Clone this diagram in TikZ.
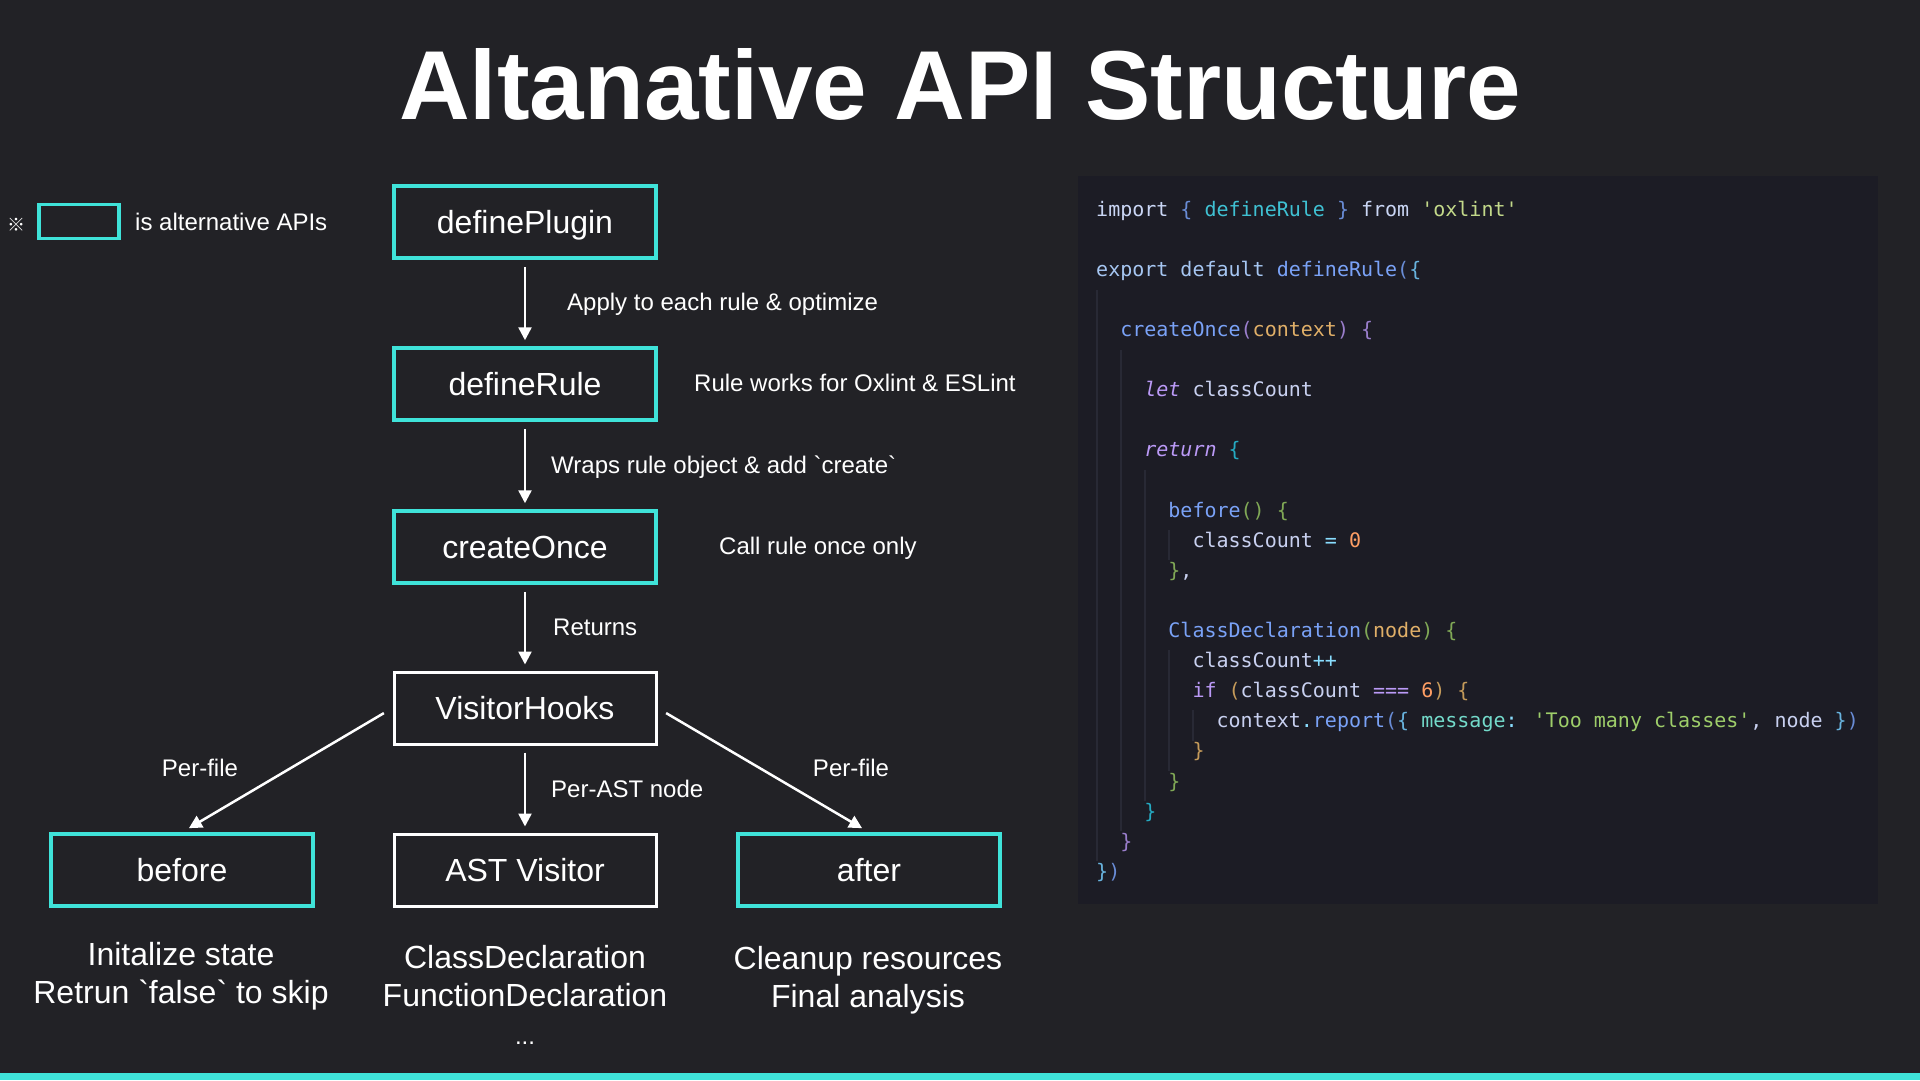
\documentclass[tikz,border=0pt]{standalone}
\usepackage{fontspec}
\usetikzlibrary{arrows.meta}
\newfontfamily\bodyfont{Liberation Sans}
\newfontfamily\titlefont{Liberation Sans Bold}
\newfontfamily\codefont{DejaVu Sans Mono}
\newfontfamily\cjkfont{Noto Sans CJK JP}
\definecolor{bgc}{HTML}{222226}
\definecolor{panelc}{HTML}{1C1C25}
\definecolor{cyanc}{HTML}{3FE3D9}
\definecolor{guidec}{HTML}{282935}
\definecolor{cW}{HTML}{C8D0F0}
\definecolor{cK}{HTML}{CAD6F5}
\definecolor{cE}{HTML}{A6C6F2}
\definecolor{cF}{HTML}{7AA2F7}
\definecolor{cT}{HTML}{3FC1D3}
\definecolor{cS}{HTML}{C3D98A}
\definecolor{cS2}{HTML}{9ECE6A}
\definecolor{cP}{HTML}{E0AF68}
\definecolor{cI}{HTML}{BB9AF7}
\definecolor{cO}{HTML}{89DDFF}
\definecolor{cN}{HTML}{FF9E64}
\definecolor{cM}{HTML}{73DACA}
\definecolor{bA}{HTML}{698CD6}
\definecolor{bB}{HTML}{68B3DE}
\definecolor{bC}{HTML}{9A7ECC}
\definecolor{bD}{HTML}{25AAC2}
\definecolor{bE}{HTML}{80A856}
\definecolor{bF}{HTML}{C49A5A}
\newcommand\tk[2]{{\color{#1}#2}}
\tikzset{
  x=1pt, y=-1pt,
  apibox/.style={draw=cyanc, line width=3.5pt, fill=bgc, minimum width=262pt, minimum height=72pt, inner sep=0pt, text height=24pt, text depth=1pt, text=white, font=\bodyfont\fontsize{32}{38}\selectfont},
  plainbox/.style={apibox, draw=white, line width=3pt},
  arr/.style={draw=white, line width=2.5pt, -{Triangle[width=13pt,length=13pt]}, shorten <=7pt, shorten >=6pt},
  lbl/.style={text=white, font=\bodyfont\fontsize{24}{28}\selectfont, inner sep=0pt},
  desc/.style={text=white, font=\bodyfont\fontsize{32}{38}\selectfont, inner sep=0pt, align=center},
  codeln/.style={anchor=mid west, inner sep=0pt, text=cW, font=\codefont\fontsize{20}{24}\selectfont},
  guide/.style={draw=guidec, line width=1.2pt},
}
\begin{document}
\begin{tikzpicture}
\fill[bgc] (0,0) rectangle (1920,1080);
\useasboundingbox (0,0) rectangle (1920,1080);
\fill[cyanc] (0,1073) rectangle (1920,1080);

% title
\node[text=white, font=\titlefont\fontsize{98}{110}\selectfont, anchor=base, inner sep=0pt] (title) at (960,119) {Altanative API Structure};

% legend
\node[text=white, font=\cjkfont\fontsize{18}{20}\selectfont, inner sep=0pt] (mark) at (16,225) {※};
\node[draw=cyanc, line width=3.5pt, minimum width=80pt, minimum height=34pt, inner sep=0pt] (legbox) at (79,221.5) {};
\node[lbl, anchor=mid west] (legtext) at (135,228) {is alternative APIs};

% main chain
\node[apibox] (dp) at (525,222) {definePlugin};
\node[apibox] (dr) at (525,384) {defineRule};
\node[apibox] (co) at (525,547) {createOnce};
\node[plainbox] (vh) at (525,708) {VisitorHooks};
\node[apibox] (bf) at (182,870) {before};
\node[plainbox] (ast) at (525,870) {AST Visitor};
\node[apibox] (af) at (869,870) {after};

\draw[arr] (dp) -- (dr);
\draw[arr] (dr) -- (co);
\draw[arr] (co) -- (vh);
\draw[arr] (vh) -- (ast);
\draw[arr, shorten <=10pt, shorten >=8pt] (vh.west) -- (bf.north);
\draw[arr, shorten <=10pt, shorten >=8pt] (vh.east) -- (af.north);

\node[lbl, anchor=mid west] (l1) at (567,308) {Apply to each rule \& optimize};
\node[lbl, anchor=mid west] (l2) at (694,389) {Rule works for Oxlint \& ESLint};
\node[lbl, anchor=mid west] (l3) at (551,471) {Wraps rule object \& add `create`};
\node[lbl, anchor=mid west] (l4) at (719,552) {Call rule once only};
\node[lbl, anchor=mid west] (l5) at (553,633) {Returns};
\node[lbl, anchor=mid] (l6) at (200,774) {Per-file};
\node[lbl, anchor=mid west] (l7) at (551,795) {Per-AST node};
\node[lbl, anchor=mid] (l8) at (851,774) {Per-file};

\node[desc, anchor=mid] (d1a) at (181,963) {Initalize state};
\node[desc, anchor=mid] (d1b) at (181,1001) {Retrun `false` to skip};
\node[desc, anchor=mid] (d2a) at (525,966) {ClassDeclaration};
\node[desc, anchor=mid] (d2b) at (525,1004) {FunctionDeclaration};
\node[lbl, anchor=mid] (d2c) at (525,1042) {...};
\node[desc, anchor=mid] (d3a) at (868,967) {Cleanup resources};
\node[desc, anchor=mid] (d3b) at (868,1005) {Final analysis};

% code panel
\fill[panelc] (1078,176) rectangle (1878,904);
\draw[guide] (1097,290) -- (1097,861);
\draw[guide] (1121,350) -- (1121,831);
\draw[guide] (1145,470) -- (1145,801);
\draw[guide] (1169,530) -- (1169,560);
\draw[guide] (1169,650) -- (1169,771);
\draw[guide] (1193,710) -- (1193,741);

\node[codeln] (c0) at ({1096+0*12.04},{214+0*30.1}) {\tk{cK}{import} \tk{bA}{\{} \tk{cT}{defineRule} \tk{bA}{\}} \tk{cK}{from} \tk{cS}{'oxlint'}};
\node[codeln] (c2) at ({1096+0*12.04},{214+2*30.1}) {\tk{cE}{export default} \tk{cF}{defineRule}\tk{bA}{(}\tk{bB}{\{}};
\node[codeln] (c4) at ({1096+2*12.04},{214+4*30.1}) {\tk{cF}{createOnce}\tk{bC}{(}\tk{cP}{context}\tk{bC}{)} \tk{bC}{\{}};
\node[codeln] (c6) at ({1096+4*12.04},{214+6*30.1}) {\tk{cI}{\itshape let} \tk{cW}{classCount}};
\node[codeln] (c8) at ({1096+4*12.04},{214+8*30.1}) {\tk{cI}{\itshape return} \tk{bD}{\{}};
\node[codeln] (c10) at ({1096+6*12.04},{214+10*30.1}) {\tk{cF}{before}\tk{bE}{()} \tk{bE}{\{}};
\node[codeln] (c11) at ({1096+8*12.04},{214+11*30.1}) {\tk{cW}{classCount} \tk{cO}{=} \tk{cN}{0}};
\node[codeln] (c12) at ({1096+6*12.04},{214+12*30.1}) {\tk{bE}{\}}\tk{cW}{,}};
\node[codeln] (c14) at ({1096+6*12.04},{214+14*30.1}) {\tk{cF}{ClassDeclaration}\tk{bE}{(}\tk{cP}{node}\tk{bE}{)} \tk{bE}{\{}};
\node[codeln] (c15) at ({1096+8*12.04},{214+15*30.1}) {\tk{cW}{classCount}\tk{cO}{++}};
\node[codeln] (c16) at ({1096+8*12.04},{214+16*30.1}) {\tk{cI}{if} \tk{bF}{(}\tk{cW}{classCount} \tk{cI}{===} \tk{cN}{6}\tk{bF}{)} \tk{bF}{\{}};
\node[codeln] (c17) at ({1096+10*12.04},{214+17*30.1}) {\tk{cW}{context}\tk{cO}{.}\tk{cF}{report}\tk{bA}{(}\tk{bB}{\{} \tk{cM}{message}\tk{cO}{:} \tk{cS2}{'Too many classes'}\tk{cW}{,} \tk{cW}{node} \tk{bB}{\}}\tk{bA}{)}};
\node[codeln] (c18) at ({1096+8*12.04},{214+18*30.1}) {\tk{bF}{\}}};
\node[codeln] (c19) at ({1096+6*12.04},{214+19*30.1}) {\tk{bE}{\}}};
\node[codeln] (c20) at ({1096+4*12.04},{214+20*30.1}) {\tk{bD}{\}}};
\node[codeln] (c21) at ({1096+2*12.04},{214+21*30.1}) {\tk{bC}{\}}};
\node[codeln] (c22) at ({1096+0*12.04},{214+22*30.1}) {\tk{bB}{\}}\tk{bA}{)}};
\end{tikzpicture}
\end{document}
